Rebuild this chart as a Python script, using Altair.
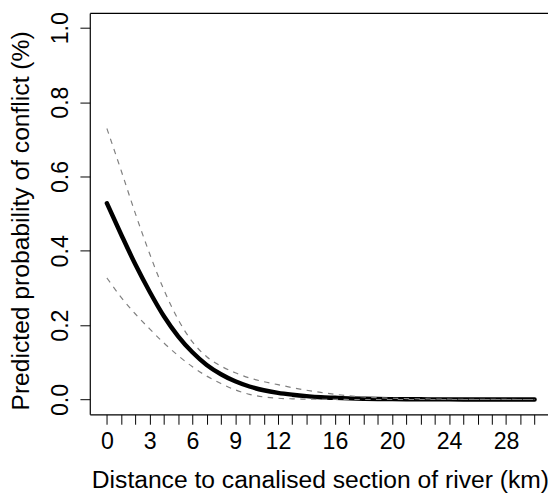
import altair as alt
import pandas as pd

km = list(range(0, 31))
fit = [0.528, 0.444, 0.363, 0.290, 0.224, 0.170, 0.127, 0.093, 0.068, 0.049,
       0.035, 0.025, 0.018, 0.013, 0.009, 0.006, 0.0045, 0.003, 0.002, 0.0015,
       0.001, 0.0007, 0.0005, 0.0004, 0.0003, 0.0002, 0.0001, 0.0001, 0.0001, 0.0, 0.0]
upper = [0.729, 0.616, 0.500, 0.392, 0.295, 0.215, 0.155, 0.115, 0.090, 0.072,
         0.058, 0.048, 0.040, 0.032, 0.025, 0.019, 0.014, 0.010, 0.007, 0.005,
         0.0035, 0.0025, 0.0018, 0.0012, 0.0008, 0.0006, 0.0004, 0.0003, 0.0002, 0.0001, 0.0001]
lower = [0.327, 0.275, 0.230, 0.190, 0.152, 0.118, 0.088, 0.063, 0.043, 0.026,
         0.014, 0.007, 0.0035, 0.0018, 0.001, 0.0005, 0.0003, 0.0001, 0.0001, 0.0,
         0.0, 0.0, 0.0, 0.0, 0.0, 0.0, 0.0, 0.0, 0.0, 0.0, 0.0]

x_ticks = list(range(0, 31))
x_labels_shown = [0, 3, 6, 9, 12, 16, 20, 24, 28]
y_ticks = [0.0, 0.2, 0.4, 0.6, 0.8, 1.0]

df = pd.DataFrame({"km": km, "fit": fit, "upper": upper, "lower": lower})

FONT = "Liberation Sans"
LABEL_SIZE = 23.5
TITLE_SIZE = 25
xscale = alt.Scale(domain=[-1.2, 30.94], nice=False, zero=False)
yscale = alt.Scale(domain=[-0.04, 1.04], nice=False, zero=False)

hidden = dict(labels=False, ticks=False, domain=False, grid=False, title="")

base = alt.Chart(df)

solid = base.mark_line(color="black", strokeWidth=4.5, strokeCap="round",
                       interpolate="monotone").encode(
    x=alt.X("km:Q", scale=xscale,
            axis=alt.Axis(
                values=x_ticks,
                labelExpr="indexof(" + str(x_labels_shown) + ", datum.value) >= 0 ? datum.label : ''",
                labelOverlap=False, labelFlush=False, labelBound=False,
                labelFont=FONT, labelFontSize=LABEL_SIZE, labelColor="black",
                labelBaseline="alphabetic", labelPadding=25,
                tickSize=10, tickColor="black", tickWidth=1,
                domainColor="black", domainWidth=1.2, grid=False,
                title="Distance to canalised section of river (km)",
                titleFont=FONT, titleFontSize=TITLE_SIZE, titleFontWeight="normal",
                titleColor="black", titleBaseline="alphabetic",
                titleX=233.5, titleY=74)),
    y=alt.Y("fit:Q", scale=yscale,
            axis=alt.Axis(
                values=y_ticks, format=".1f",
                labelAngle=-90, labelAlign="center", labelBaseline="alphabetic",
                labelPadding=12.7, labelFont=FONT, labelFontSize=LABEL_SIZE, labelColor="black",
                labelFlush=False, labelBound=False, labelOverlap=False,
                tickSize=10, tickColor="black", tickWidth=1,
                domainColor="black", domainWidth=1.2, grid=False,
                title="Predicted probability of conflict (%)",
                titleFont=FONT, titleFontSize=TITLE_SIZE, titleFontWeight="normal",
                titleColor="black", titleAngle=270, titleAlign="center",
                titleBaseline="alphabetic", titleX=-62, titleY=210.6)),
)

up = base.mark_line(color="#808080", strokeWidth=1.2, strokeDash=[5.5, 5.5],
                    interpolate="monotone").encode(
    x=alt.X("km:Q", scale=xscale,
            axis=alt.Axis(orient="top", labels=False, ticks=False, grid=False,
                          domainColor="black", domainWidth=1.2, title="")),
    y=alt.Y("upper:Q", scale=yscale, axis=alt.Axis(orient="right", **hidden)),
)

lo = base.mark_line(color="#808080", strokeWidth=1.2, strokeDash=[5.5, 5.5],
                    interpolate="monotone").encode(
    x=alt.X("km:Q", scale=xscale, axis=alt.Axis(orient="top", **hidden)),
    y=alt.Y("lower:Q", scale=yscale, axis=alt.Axis(orient="right", **hidden)),
)

chart = alt.layer(solid, up, lo).resolve_axis(x="independent", y="independent").properties(
    width=465, height=407.4,
    autosize=alt.AutoSizeParams(type="none"),
    padding={"left": 83, "top": 1.4, "right": 0, "bottom": 77.2},
    background="white",
).configure_view(stroke=None)

chart.save("out.html", embed_options={"renderer": "svg", "actions": False})
